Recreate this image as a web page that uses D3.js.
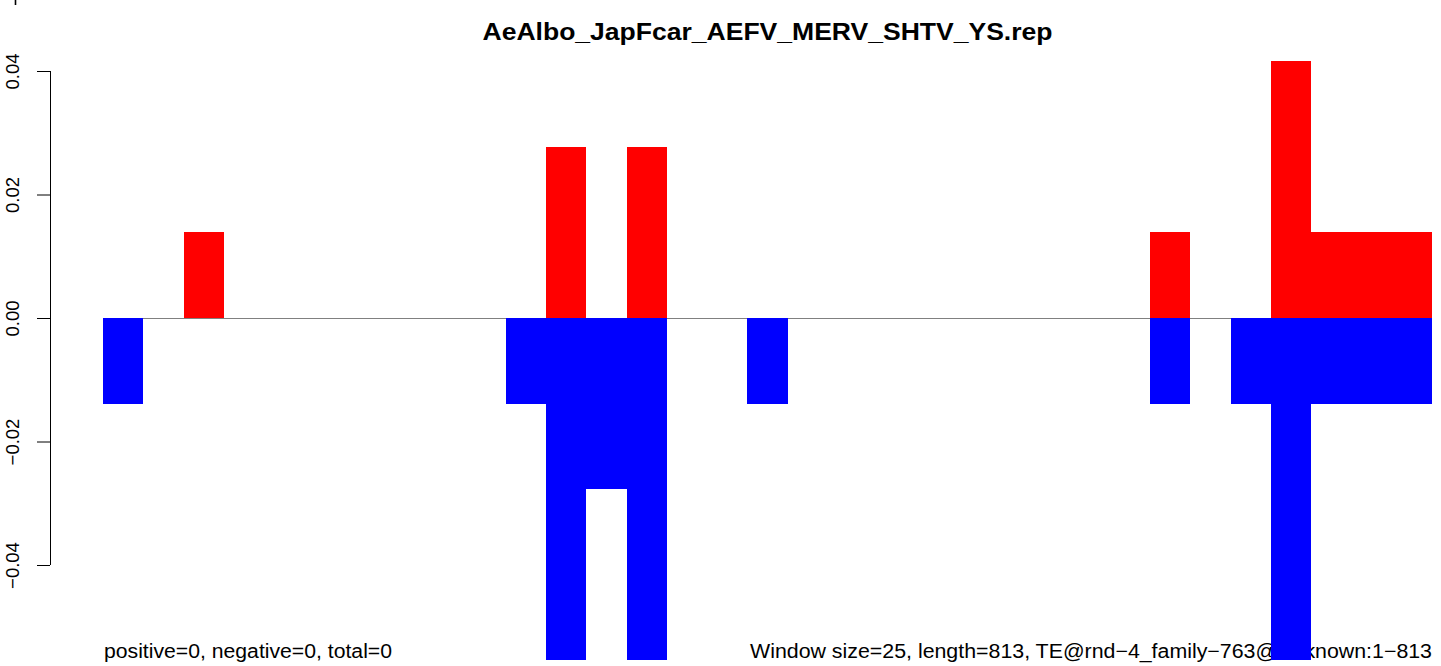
<!DOCTYPE html>
<html>
<head>
<meta charset="utf-8">
<script src="https://cdn.jsdelivr.net/npm/d3@7"></script>
<style>
  html, body { margin: 0; padding: 0; background: #fff; }
  svg { display: block; }
  text { font-family: "Liberation Sans", Arial, Helvetica, sans-serif; fill: #000; }
</style>
</head>
<body>
<svg id="chart" width="1441" height="666"></svg>
<script>
// ---- data (33 windows of 25 bp over 813 bp) ----
const windowIndex = d3.range(33);
const positiveValues = [0, 0, 0.01385, 0, 0, 0, 0, 0, 0, 0, 0, 0.0277, 0, 0.0277, 0, 0, 0, 0, 0, 0, 0, 0, 0, 0, 0, 0, 0.01385, 0, 0, 0.04155, 0.01385, 0.01385, 0.01385];
const negativeValues = [-0.01385, 0, 0, 0, 0, 0, 0, 0, 0, 0, -0.01385, -0.0554, -0.0277, -0.0554, 0, 0, -0.01385, 0, 0, 0, 0, 0, 0, 0, 0, 0, -0.01385, 0, -0.01385, -0.0554, -0.01385, -0.01385, -0.01385];
const yTicks = [-0.04, -0.02, 0, 0.02, 0.04];
const titleText = "AeAlbo_JapFcar_AEFV_MERV_SHTV_YS.rep";
const leftNote = "positive=0, negative=0, total=0";
const rightNote = "Window size=25, length=813, TE@rnd\u22124_family\u2212763@Unknown:1\u2212813";

const svg = d3.select("#chart");

const x = d3.scaleBand().domain(windowIndex).range([103, 1432]).padding(0);
const y = d3.scaleLinear().domain([-0.04, 0.04]).range([565, 71]);

// Title
svg.append("text")
  .attr("x", 767.5).attr("y", 40)
  .attr("text-anchor", "middle")
  .attr("font-weight", "bold")
  .attr("font-size", 24)
  .attr("textLength", 570).attr("lengthAdjust", "spacingAndGlyphs")
  .text(titleText);

// sliver of the panel above (its cut-off axis label stroke)
svg.append("line")
  .attr("x1", 15.5).attr("x2", 15.5).attr("y1", 0).attr("y2", 5)
  .attr("stroke", "#000").attr("stroke-width", 1.6);

// Y axis
const yAxis = d3.axisLeft(y)
  .tickValues(yTicks)
  .tickSize(13)
  .tickFormat(d3.format(".2f"));
const gy = svg.append("g").attr("transform", "translate(50,0)").call(yAxis);
gy.select(".domain").attr("d", `M0.5,${y(-0.04)}V${y(0.04)}`).attr("stroke", "#000");
gy.selectAll(".tick line").attr("stroke", "#000");
gy.selectAll(".tick text")
  .attr("font-family", "Liberation Sans, Arial, sans-serif")
  .attr("font-size", 18.5)
  .attr("x", null).attr("dy", null)
  .attr("text-anchor", "middle")
  .attr("transform", "translate(-31,0) rotate(-90)")
  .attr("y", 0)
  .attr("fill", "#000");

// Bottom notes (drawn before bars so bars cover them)
svg.append("text")
  .attr("x", 104).attr("y", 658)
  .attr("font-size", 20)
  .attr("textLength", 288).attr("lengthAdjust", "spacingAndGlyphs")
  .text(leftNote);
svg.append("text")
  .attr("x", 1432 - 682).attr("y", 658)
  .attr("font-size", 20)
  .attr("textLength", 682).attr("lengthAdjust", "spacingAndGlyphs")
  .text(rightNote);

// zero line
svg.append("line")
  .attr("x1", x.range()[0]).attr("x2", x.range()[1])
  .attr("y1", y(0) + 0.5).attr("y2", y(0) + 0.5)
  .attr("stroke", "#808080").attr("stroke-width", 1)
  .attr("shape-rendering", "crispEdges");

// positive bars
svg.append("g").selectAll("rect")
  .data(windowIndex.filter(i => positiveValues[i] > 0))
  .join("rect")
  .attr("x", i => x(i))
  .attr("width", x.bandwidth())
  .attr("y", i => y(positiveValues[i]))
  .attr("height", i => y(0) - y(positiveValues[i]))
  .attr("fill", "#ff0000")
  .attr("shape-rendering", "crispEdges");

// negative bars
svg.append("g").selectAll("rect")
  .data(windowIndex.filter(i => negativeValues[i] < 0))
  .join("rect")
  .attr("x", i => x(i))
  .attr("width", x.bandwidth())
  .attr("y", y(0))
  .attr("height", i => y(negativeValues[i]) - y(0))
  .attr("fill", "#0000ff")
  .attr("shape-rendering", "crispEdges");
</script>
</body>
</html>
